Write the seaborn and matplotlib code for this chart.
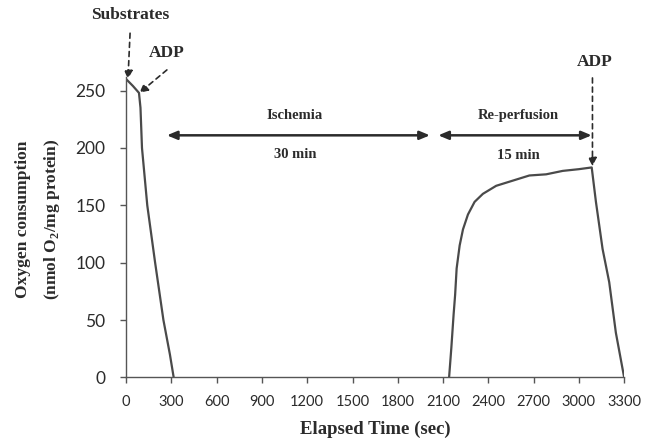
import numpy as np
import pandas as pd
import matplotlib
matplotlib.use("Agg")
import matplotlib.pyplot as plt
import seaborn as sns

# === DATA ===
# phase 1: substrates + ADP, then O2 runs out
time_phase1 = [0, 45, 85, 95, 105, 140, 192, 247, 290, 315]
o2_phase1 = [260, 254, 248, 235, 200, 150, 100, 50, 20, 0]

# phase 2: re-perfusion recovery, then second ADP
time_phase2 = [2140, 2155, 2170, 2180, 2190, 2210, 2232, 2265, 2309, 2364,
               2452, 2562, 2672, 2783, 2893, 3000, 3085, 3113, 3157, 3201,
               3245, 3300]
o2_phase2 = [0, 26, 55, 72, 95, 115, 129, 142, 153, 160,
             167, 171.5, 176, 177, 180, 181.5, 183, 153, 112, 83,
             39, 0]

x_ticks = list(range(0, 3301, 300))
y_ticks = [0, 50, 100, 150, 200, 250]

# annotation anchors (time, value)
substrates_at = (12, 260)
adp1_at = (88, 248)
adp2_at = (3090, 184)
ischemia_span = (270, 2013)
reperfusion_span = (2068, 3085)
span_level = 211

# === STYLE ===
sns.set_style("ticks")
SERIF = ["Liberation Serif", "DejaVu Serif"]
SANS = ["Lato", "DejaVu Sans"]
plt.rcParams["mathtext.fontset"] = "custom"
plt.rcParams["mathtext.rm"] = "Liberation Serif:bold"
plt.rcParams["mathtext.bf"] = "Liberation Serif:bold"
INK = "#2b2b2b"
LINE = "#4a4a4a"

df = pd.DataFrame({
    "time": time_phase1 + time_phase2,
    "o2": o2_phase1 + o2_phase2,
    "phase": ["p1"] * len(time_phase1) + ["p2"] * len(time_phase2),
})

fig = plt.figure(figsize=(6.57, 4.44), dpi=100)
ax = fig.add_axes([0.192, 0.150, 0.758, 0.677])

sns.lineplot(data=df, x="time", y="o2", units="phase", estimator=None,
             color=LINE, linewidth=1.6, ax=ax)

ax.set_xlim(0, 3300)
ax.set_ylim(0, 262)
ax.set_xticks(x_ticks)
ax.set_yticks(y_ticks)
ax.set_xticklabels([str(t) for t in x_ticks], fontfamily=SANS, fontsize=10.5, color=INK)
ax.set_yticklabels([str(t) for t in y_ticks], fontfamily=SANS, fontsize=12.5, color=INK)
ax.tick_params(axis="both", direction="out", length=4, width=1, color="#555555")
ax.tick_params(axis="x", pad=9)
ax.tick_params(axis="y", pad=11)

for side in ["top", "right"]:
    ax.spines[side].set_visible(False)
for side in ["left", "bottom"]:
    ax.spines[side].set_color("#555555")
    ax.spines[side].set_linewidth(1.0)

ax.set_xlabel("Elapsed Time (sec)", fontfamily=SERIF, fontweight="bold",
              fontsize=13.5, color=INK, labelpad=8)
ax.set_ylabel("Oxygen consumption\n(nmol O$_{\\mathrm{2}}$/mg protein)", fontfamily=SERIF,
              fontweight="bold", fontsize=12.5, color=INK, linespacing=1.8)
ax.yaxis.set_label_coords(-0.128, 0.525)

# dashed pointer arrows
dashed = dict(arrowstyle="-|>,head_length=0.5,head_width=0.25", color=INK,
              lw=1.2, linestyle=(0, (3, 2.5)), shrinkA=0, shrinkB=0)
head_kw = dict(ha="center", va="center", fontfamily=SERIF, fontweight="bold",
               fontsize=12.5, color=INK)

ax.text(26, 316, "Substrates", clip_on=False, **head_kw)
ax.annotate("", xy=substrates_at, xytext=(26, 300), arrowprops=dashed,
            annotation_clip=False)
ax.text(270, 283, "ADP", clip_on=False, **head_kw)
ax.annotate("", xy=adp1_at, xytext=(270, 268), arrowprops=dashed,
            annotation_clip=False)
ax.text(3105, 275, "ADP", clip_on=False, **head_kw)
ax.annotate("", xy=adp2_at, xytext=(3090, 261), arrowprops=dashed,
            annotation_clip=False)

# solid double-headed span arrows
solid = dict(arrowstyle="<|-|>,head_length=0.6,head_width=0.25", color=INK,
             lw=1.8, shrinkA=0, shrinkB=0)
ax.annotate("", xy=(ischemia_span[0], span_level), xytext=(ischemia_span[1], span_level),
            arrowprops=solid)
ax.annotate("", xy=(reperfusion_span[0], span_level), xytext=(reperfusion_span[1], span_level),
            arrowprops=solid)

label_kw = dict(ha="center", va="center", fontfamily=SERIF, fontweight="bold",
                fontsize=10.5, color=INK)
ax.text(1119, 228, "Ischemia", **label_kw)
ax.text(1119, 194, "30 min", **label_kw)
ax.text(2599, 228, "Re-perfusion", **label_kw)
ax.text(2599, 193, "15 min", **label_kw)

fig.savefig("out.png", dpi=100)
